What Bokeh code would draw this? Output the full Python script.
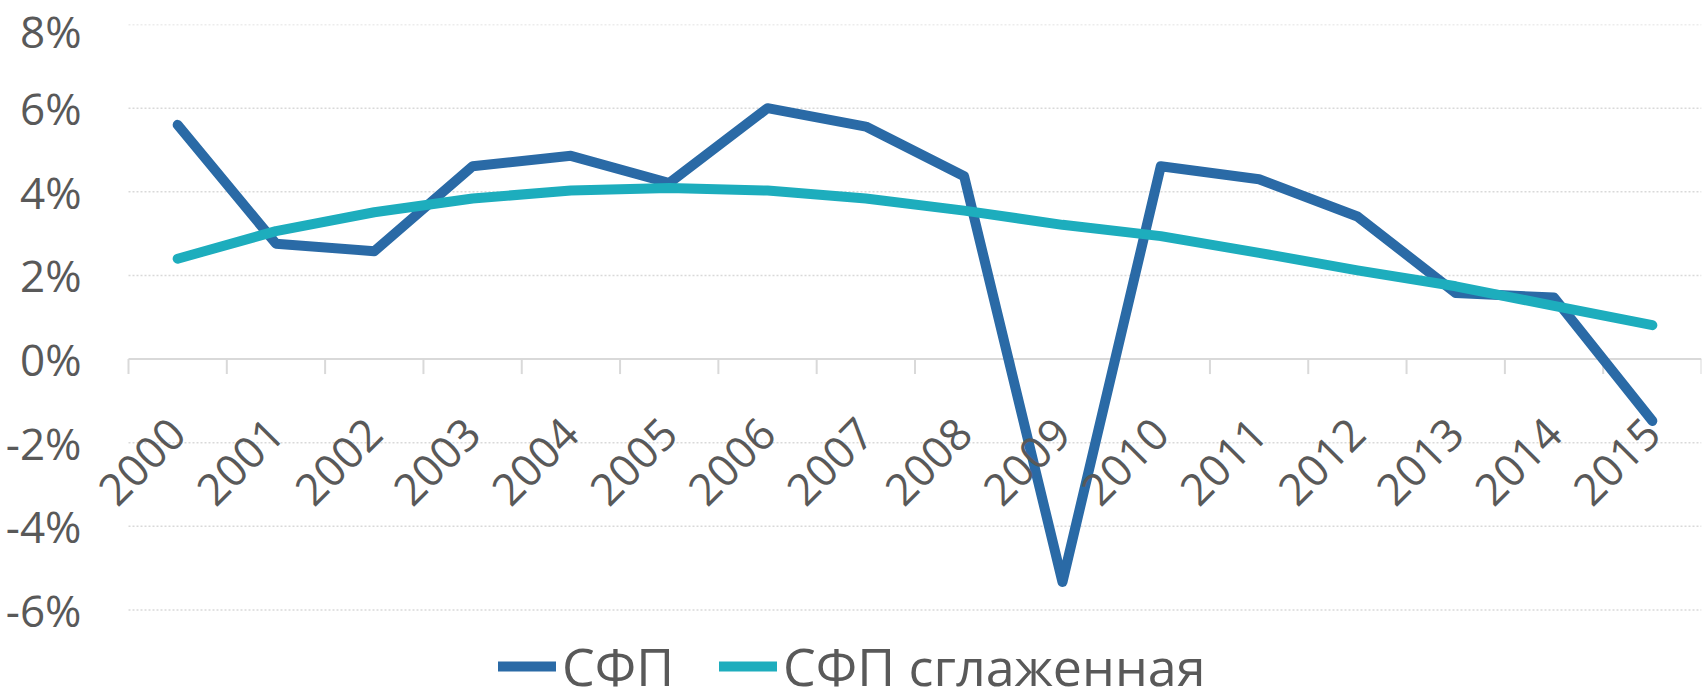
from math import pi
from bokeh.plotting import figure
from bokeh.models import (Range1d, FixedTicker, Legend, LegendItem,
                          ColumnDataSource, PrintfTickFormatter)
from bokeh.core.properties import value
from bokeh.embed import file_html
from bokeh.resources import INLINE

# ---- data ----
years = ["2000", "2001", "2002", "2003", "2004", "2005", "2006", "2007",
         "2008", "2009", "2010", "2011", "2012", "2013", "2014", "2015"]
sfp = [5.60, 2.76, 2.58, 4.61, 4.86, 4.21, 6.00, 5.56,
       4.37, -5.33, 4.61, 4.30, 3.41, 1.58, 1.47, -1.48]
sfp_smooth = [2.40, 3.06, 3.51, 3.84, 4.03, 4.09, 4.03, 3.84,
              3.55, 3.21, 2.94, 2.54, 2.12, 1.74, 1.27, 0.81]
y_ticks = [-6, -4, -2, 0, 2, 4, 6, 8]
series_names = ["СФП", "СФП сглаженная"]

# ---- style / layout ----
FONT = "Open Sans"
TEXT = "#595959"
GRID = "#d9d9d9"
BLUE = "#2a6aa6"
TEAL = "#1dadbd"

W, H = 1704, 692
FRAME_LEFT = 92          # left edge of the drawing frame (y labels sit left of it)
PLOT_LEFT = 128          # where the category axis begins
RIGHT_PAD = 3
TOP_PAD, BOTTOM_PAD = 24, 82.5

n = len(years)
ppx = (W - RIGHT_PAD - PLOT_LEFT) / n
x_start = -(PLOT_LEFT - FRAME_LEFT) / ppx
ppu = (H - TOP_PAD - BOTTOM_PAD) / (y_ticks[-1] - y_ticks[0])
y_start = y_ticks[0] - BOTTOM_PAD / ppu

xpos = [i + 0.5 for i in range(n)]
src = ColumnDataSource(dict(x=xpos, year=years, sfp=sfp, smooth=sfp_smooth,
                            y0=[0] * n))

p = figure(width=W, height=H, x_range=Range1d(x_start, n),
           y_range=Range1d(y_start, y_ticks[-1]),
           output_backend="svg", toolbar_location=None, x_axis_location=None,
           title=None,
           min_border_left=FRAME_LEFT, min_border_right=RIGHT_PAD,
           min_border_top=TOP_PAD, min_border_bottom=0)
p.outline_line_color = None
p.background_fill_color = "white"
p.border_fill_color = "white"
p.grid.grid_line_color = None

# y axis (labels only)
yax = p.yaxis[0]
yax.ticker = FixedTicker(ticks=y_ticks)
yax.formatter = PrintfTickFormatter(format="%d%%")
yax.axis_line_color = None
yax.major_tick_line_color = None
yax.minor_tick_line_color = None
yax.major_tick_out = 0
yax.major_label_standoff = 11
yax.major_label_text_font = FONT
yax.major_label_text_font_size = "44px"
yax.major_label_text_color = TEXT

# dotted gridlines across the category span
grid_vals = [t for t in y_ticks if t != 0]
p.segment(x0=[0] * len(grid_vals), x1=[n] * len(grid_vals), y0=grid_vals, y1=grid_vals,
          line_color=GRID, line_width=1.5, line_dash="2 2")

# category axis line at 0 with tick marks between categories
p.segment(x0=[0], x1=[n], y0=[0], y1=[0], line_color=GRID, line_width=2)
p.ray(x=list(range(n + 1)), y=[0] * (n + 1), length=15, length_units="screen",
      angle=-pi / 2, line_color=GRID, line_width=2)

r1 = p.line("x", "sfp", source=src, line_color=BLUE, line_width=10,
            line_cap="round", line_join="round")
r2 = p.line("x", "smooth", source=src, line_color=TEAL, line_width=10,
            line_cap="round", line_join="round")

p.text(x="x", y="y0", text="year", source=src, angle=pi / 4,
       text_align="right", text_baseline="middle", x_offset=0, y_offset=67,
       text_font=value(FONT), text_font_size="44px", text_color=TEXT)

legend = Legend(items=[LegendItem(label=series_names[0], renderers=[r1]),
                       LegendItem(label=series_names[1], renderers=[r2])],
                location=(406, -9), orientation="horizontal",
                padding=0, margin=0, spacing=45, glyph_width=58, glyph_height=40,
                label_standoff=6, label_text_font=FONT, label_text_font_size="52px",
                label_text_color=TEXT, border_line_color=None,
                background_fill_alpha=0)
p.add_layout(legend, "center")

open("out.html", "w").write(file_html(p, INLINE))
